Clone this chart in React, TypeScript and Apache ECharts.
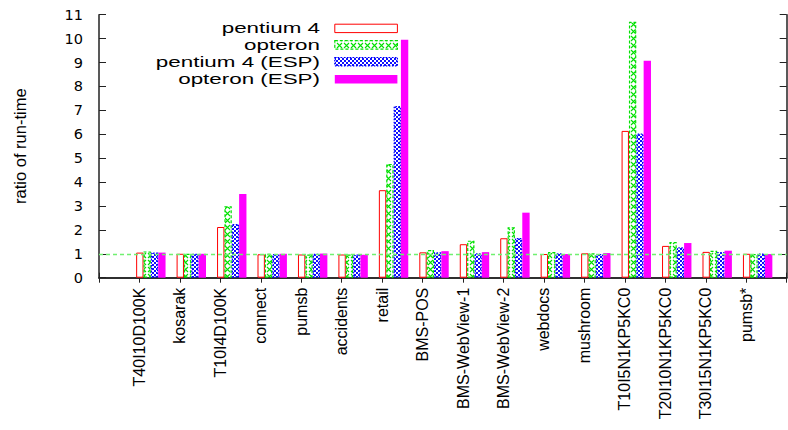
import React, { useEffect, useRef } from 'react';
import * as echarts from 'echarts';

const categories = [
  'T40I10D100K', 'kosarak', 'T10I4D100K', 'connect', 'pumsb', 'accidents', 'retail',
  'BMS-POS', 'BMS-WebView-1', 'BMS-WebView-2', 'webdocs', 'mushroom',
  'T10I5N1KP5KC0', 'T20I10N1KP5KC0', 'T30I15N1KP5KC0', 'pumsb*',
];
const seriesNames = ['pentium 4', 'opteron', 'pentium 4 (ESP)', 'opteron (ESP)'];
const pentium4 = [1.05, 1.0, 2.12, 0.98, 0.97, 0.97, 3.66, 1.06, 1.4, 1.65, 0.99, 1.02, 6.14, 1.33, 1.08, 1.0];
const opteron = [1.1, 1.0, 2.99, 1.0, 0.97, 0.97, 4.76, 1.16, 1.55, 2.11, 1.07, 1.02, 10.7, 1.49, 1.13, 0.99];
const pentium4Esp = [1.05, 1.0, 2.25, 0.99, 1.0, 0.97, 7.18, 1.06, 1.02, 1.66, 1.02, 0.99, 6.03, 1.27, 1.08, 1.01];
const opteronEsp = [1.05, 1.0, 3.5, 1.0, 1.01, 0.96, 9.95, 1.11, 1.07, 2.72, 0.99, 1.03, 9.07, 1.45, 1.13, 0.99];
const yMin = 0;
const yMax = 11;
const yInterval = 1;
const referenceLevel = 1;
const yAxisTitle = 'ratio of run-time';

function makeGreenPattern(): any {
  const c = document.createElement('canvas');
  c.width = 7;
  c.height = 7;
  const ctx = c.getContext('2d')!;
  ctx.fillStyle = '#ffffff';
  ctx.fillRect(0, 0, 7, 7);
  ctx.strokeStyle = '#00e000';
  ctx.lineWidth = 1.1;
  ctx.beginPath();
  ctx.moveTo(1, 1);
  ctx.lineTo(6, 6);
  ctx.moveTo(6, 1);
  ctx.lineTo(1, 6);
  ctx.stroke();
  return { image: c, repeat: 'repeat' };
}

function makeBluePattern(): any {
  const c = document.createElement('canvas');
  c.width = 4;
  c.height = 4;
  const ctx = c.getContext('2d')!;
  ctx.fillStyle = '#ffffff';
  ctx.fillRect(0, 0, 4, 4);
  ctx.fillStyle = '#1010ff';
  ctx.fillRect(0, 0, 2, 2);
  ctx.fillRect(2, 2, 2, 2);
  return { image: c, repeat: 'repeat' };
}

export default function App() {
  const ref = useRef<HTMLDivElement>(null);

  useEffect(() => {
    document.body.style.margin = '0';
    if (!ref.current) return;
    const chart = echarts.init(ref.current, undefined, { renderer: 'svg' });

    const green = makeGreenPattern();
    const blue = makeBluePattern();

    const styles: any[] = [
      { color: '#ffffff', borderColor: '#ff0000', borderWidth: 1 },
      { color: green, borderColor: '#00e000', borderWidth: 1.2, borderType: [3, 2] },
      { color: blue, borderColor: '#0000ff', borderWidth: 1.2, borderType: [1.5, 1.5] },
      { color: '#ff00ff', borderWidth: 0 },
    ];
    const values = [pentium4, opteron, pentium4Esp, opteronEsp];

    const fontFamily = 'Liberation Sans, Arial, sans-serif';
    const axisCats = ['', ...categories, ''];
    const barCats = ['', ...categories];

    const legendY = [28.4, 44.9, 61.7, 79.2];
    const legendGraphics: any[] = [];
    seriesNames.forEach((name, i) => {
      const cy = legendY[i];
      legendGraphics.push({
        type: 'text',
        x: 320,
        y: cy,
        scaleX: 1.6,
        style: {
          text: name,
          fill: '#000',
          fontSize: 14,
          fontFamily,
          align: 'right',
          verticalAlign: 'middle',
          textAlign: 'right',
          textVerticalAlign: 'middle',
        },
      });
      const st = styles[i];
      legendGraphics.push({
        type: 'rect',
        shape: { x: 334.8, y: cy - 4.2, width: 62.6, height: 8.4 },
        style: {
          fill: st.color,
          stroke: i === 3 ? null : st.borderColor,
          lineWidth: st.borderWidth,
          lineDash: Array.isArray(st.borderType) ? st.borderType : null,
        },
      });
    });

    const axisLineStyle = { color: '#222', width: 1.5 };

    chart.setOption({
      animation: false,
      textStyle: { fontFamily },
      grid: [
        { left: 99, right: 1.3, top: 14.7, bottom: 152.3, containLabel: false, outerBoundsMode: 'none' },
        { left: 110.4, width: 16 * (687.7 / 17), top: 14.7, bottom: 152.3, containLabel: false, outerBoundsMode: 'none' },
      ],
      xAxis: [
        {
          type: 'category',
          gridIndex: 0,
          data: axisCats,
          boundaryGap: false,
          position: 'bottom',
          axisLine: { show: true, lineStyle: axisLineStyle },
          axisTick: { show: true, inside: true, length: 5, interval: 0, lineStyle: { color: '#222' } },
          axisLabel: {
            interval: 0,
            rotate: 90,
            fontSize: 16,
            color: '#000',
            margin: 10,
            fontFamily,
          },
          splitLine: { show: false },
        },
        {
          type: 'category',
          gridIndex: 0,
          data: axisCats,
          boundaryGap: false,
          position: 'top',
          axisLine: { show: true, lineStyle: axisLineStyle },
          axisTick: { show: true, inside: true, length: 5, interval: 0, lineStyle: { color: '#222' } },
          axisLabel: { show: false },
          splitLine: { show: false },
        },
        {
          type: 'category',
          gridIndex: 1,
          data: barCats,
          boundaryGap: false,
          show: false,
        },
      ],
      yAxis: [
        {
          type: 'value',
          gridIndex: 0,
          min: yMin,
          max: yMax,
          interval: yInterval,
          position: 'left',
          name: yAxisTitle,
          nameLocation: 'middle',
          nameRotate: 90,
          nameGap: 71,
          nameTextStyle: { fontSize: 16.5, color: '#000', fontFamily },
          axisLine: { show: true, lineStyle: axisLineStyle },
          axisTick: { show: true, inside: true, length: 7, lineStyle: { color: '#222' } },
          axisLabel: { fontSize: 14.5, color: '#000', margin: 16, fontFamily: 'DejaVu Sans, sans-serif' },
          splitLine: { show: false },
        },
        {
          type: 'value',
          gridIndex: 0,
          min: yMin,
          max: yMax,
          interval: yInterval,
          position: 'right',
          axisLine: { show: true, lineStyle: axisLineStyle },
          axisTick: { show: true, inside: true, length: 7, lineStyle: { color: '#222' } },
          axisLabel: { show: false },
          splitLine: { show: false },
        },
        {
          type: 'value',
          gridIndex: 1,
          min: yMin,
          max: yMax,
          interval: yInterval,
          show: false,
          splitLine: { show: false },
        },
      ],
      graphic: legendGraphics,
      series: [
        ...seriesNames.map((name, i) => ({
          type: 'bar',
          name,
          xAxisIndex: 2,
          yAxisIndex: 2,
          barWidth: 7.35,
          barGap: '0%',
          data: [null, ...values[i]],
          itemStyle: styles[i],
          z: 2,
        })),
        {
          type: 'line',
          name: 'reference',
          xAxisIndex: 0,
          yAxisIndex: 0,
          data: [],
          z: 5,
          markLine: {
            silent: true,
            symbol: ['none', 'none'],
            label: { show: false },
            lineStyle: { color: '#70f070', type: [4, 3], width: 1.3 },
            data: [{ yAxis: referenceLevel }],
          },
        },
      ],
    });

    return () => chart.dispose();
  }, []);

  return <div ref={ref} style={{ width: 788, height: 430 }} />;
}
